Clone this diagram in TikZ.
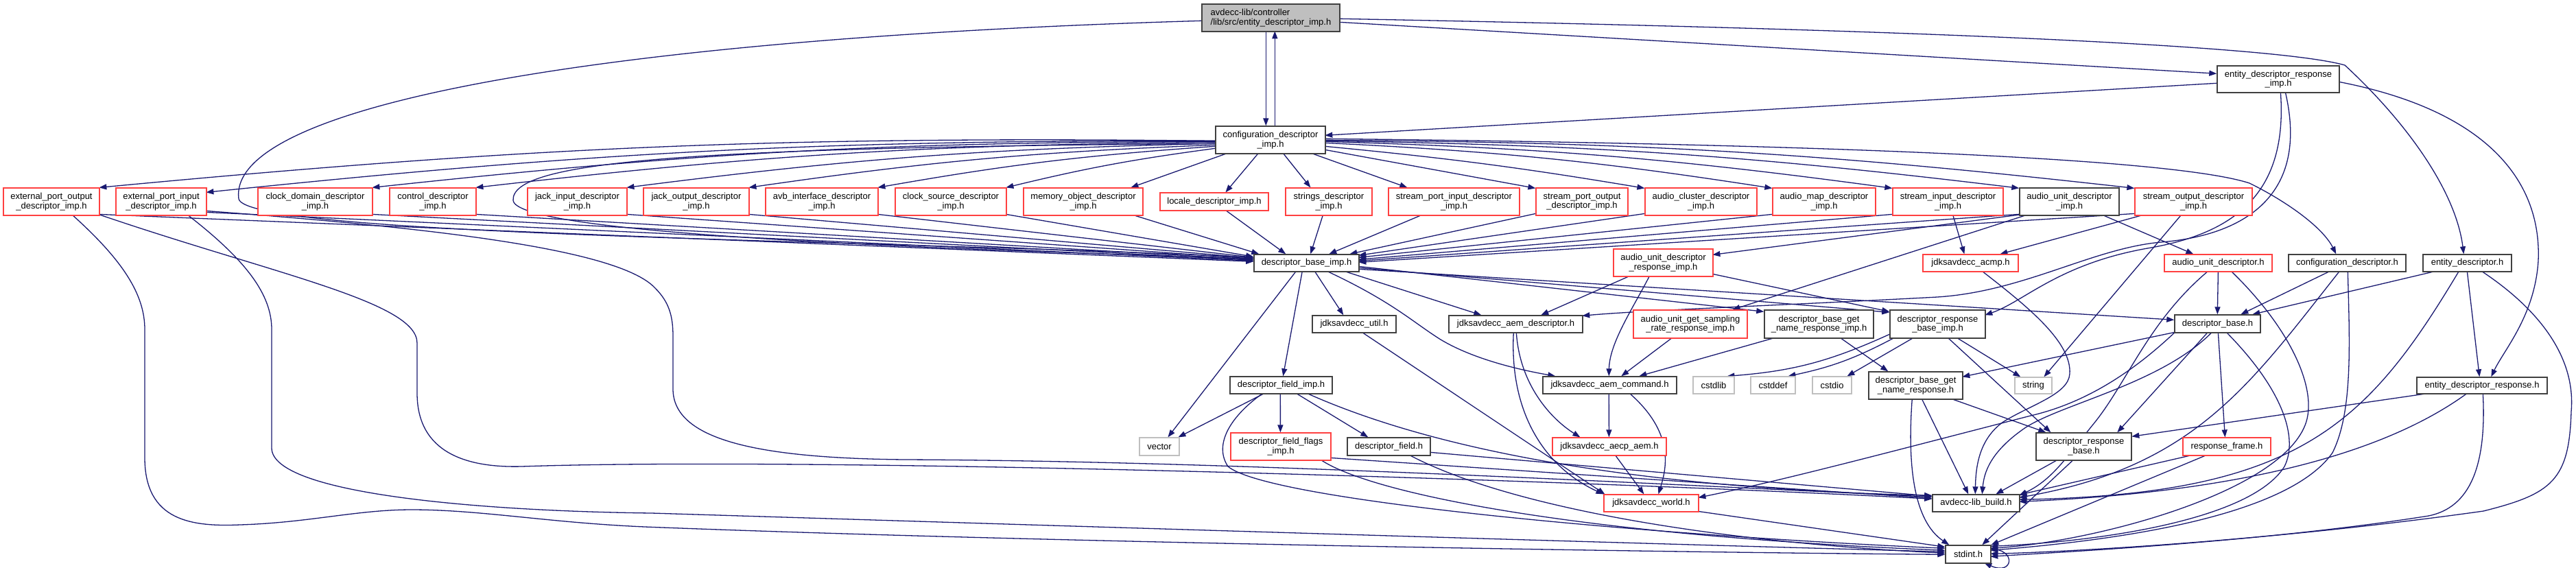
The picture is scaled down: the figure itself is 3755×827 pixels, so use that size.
\documentclass[tikz,border=0pt]{standalone}
\usepackage{fontspec}
\setmainfont{Liberation Sans}
\usetikzlibrary{arrows.meta}
\definecolor{edgec}{HTML}{191970}
\definecolor{redb}{HTML}{FF4040}
\definecolor{greyb}{HTML}{BFBFBF}
\definecolor{darkb}{HTML}{404040}
\pgfdeclarelayer{edgelayer}
\pgfsetlayers{edgelayer,main}
\tikzset{
  box/.style={draw=darkb, line width=0.7pt, inner sep=0pt, fill=white, align=center,
    font=\fontsize{6.5}{6.8}\selectfont},
  rbox/.style={box, draw=redb, line width=0.6pt},
  gbox/.style={box, draw=greyb, line width=0.6pt},
  tbox/.style={box, fill=greyb, align=left},
  lnk/.style={draw=edgec, line width=0.65pt, -{Triangle[length=5.5pt,width=4pt]}},
}
\newcommand{\nd}[7]{\node[#6, minimum width={(#4-#2)*0.5pt}, minimum height={(#5-#3)*0.5pt}] (#1) at ({(#2+#4)/2},{(#3+#5)/2}) {#7};}
\begin{document}
\begin{tikzpicture}[x=0.5pt,y=-0.5pt]
\useasboundingbox (0,0) rectangle (3755,827);
% ---------- nodes
\nd{T}{1752}{6}{1953}{46}{tbox}{avdecc-lib/controller\\/lib/src/entity\_descriptor\_imp.h}
\nd{C}{1772}{184}{1932}{224}{box}{configuration\_descriptor\\\_imp.h}
\nd{EDRI}{3232}{96}{3410}{135}{box}{entity\_descriptor\_response\\\_imp.h}
\nd{EPO}{5}{274}{145}{314}{rbox}{external\_port\_output\\\_descriptor\_imp.h}
\nd{EPI}{169}{274}{301}{314}{rbox}{external\_port\_input\\\_descriptor\_imp.h}
\nd{CDO}{376}{274}{543}{314}{rbox}{clock\_domain\_descriptor\\\_imp.h}
\nd{CTL}{568}{274}{694}{314}{rbox}{control\_descriptor\\\_imp.h}
\nd{JI}{769}{274}{914}{314}{rbox}{jack\_input\_descriptor\\\_imp.h}
\nd{JO}{938}{274}{1092}{314}{rbox}{jack\_output\_descriptor\\\_imp.h}
\nd{AVB}{1116}{274}{1280}{314}{rbox}{avb\_interface\_descriptor\\\_imp.h}
\nd{CS}{1305}{274}{1467}{314}{rbox}{clock\_source\_descriptor\\\_imp.h}
\nd{MO}{1492}{274}{1666}{314}{rbox}{memory\_object\_descriptor\\\_imp.h}
\nd{LOC}{1691}{281}{1849}{307}{rbox}{locale\_descriptor\_imp.h}
\nd{STR}{1874}{274}{2000}{314}{rbox}{strings\_descriptor\\\_imp.h}
\nd{SPI}{2024}{274}{2215}{314}{rbox}{stream\_port\_input\_descriptor\\\_imp.h}
\nd{SPO}{2239}{274}{2373}{314}{rbox}{stream\_port\_output\\\_descriptor\_imp.h}
\nd{AC}{2398}{274}{2561}{314}{rbox}{audio\_cluster\_descriptor\\\_imp.h}
\nd{AM}{2584}{274}{2734}{314}{rbox}{audio\_map\_descriptor\\\_imp.h}
\nd{SI}{2759}{274}{2920}{314}{rbox}{stream\_input\_descriptor\\\_imp.h}
\nd{AU}{2944}{274}{3089}{314}{box}{audio\_unit\_descriptor\\\_imp.h}
\nd{SO}{3112}{274}{3283}{314}{rbox}{stream\_output\_descriptor\\\_imp.h}
\nd{DBI}{1828}{371}{1981}{396}{box}{descriptor\_base\_imp.h}
\nd{AUDR}{2352}{363}{2497}{403}{rbox}{audio\_unit\_descriptor\\\_response\_imp.h}
\nd{ACMP}{2803}{371}{2942}{396}{rbox}{jdksavdecc\_acmp.h}
\nd{AUD}{3155}{371}{3312}{396}{rbox}{audio\_unit\_descriptor.h}
\nd{CD}{3336}{371}{3507}{396}{box}{configuration\_descriptor.h}
\nd{ED}{3532}{371}{3661}{396}{box}{entity\_descriptor.h}
\nd{UTIL}{1913}{460}{2035}{485}{box}{jdksavdecc\_util.h}
\nd{AEMD}{2112}{460}{2307}{485}{box}{jdksavdecc\_aem\_descriptor.h}
\nd{AUGS}{2381}{452}{2547}{493}{rbox}{audio\_unit\_get\_sampling\\\_rate\_response\_imp.h}
\nd{DBGNI}{2572}{452}{2731}{493}{box}{descriptor\_base\_get\\\_name\_response\_imp.h}
\nd{DRBI}{2755}{452}{2894}{493}{box}{descriptor\_response\\\_base\_imp.h}
\nd{DB}{3170}{459}{3295}{485}{box}{descriptor\_base.h}
\nd{DFI}{1793}{549}{1942}{574}{box}{descriptor\_field\_imp.h}
\nd{AEMC}{2249}{549}{2444}{574}{box}{jdksavdecc\_aem\_command.h}
\nd{CSTDLIB}{2468}{549}{2528}{574}{gbox}{cstdlib}
\nd{CSTDDEF}{2552}{549}{2617}{574}{gbox}{cstddef}
\nd{CSTDIO}{2642}{549}{2699}{574}{gbox}{cstdio}
\nd{DBGN}{2724}{542}{2861}{582}{box}{descriptor\_base\_get\\\_name\_response.h}
\nd{STRING}{2937}{550}{2991}{574}{gbox}{string}
\nd{EDR}{3523}{550}{3713}{574}{box}{entity\_descriptor\_response.h}
\nd{VEC}{1661}{638}{1719}{664}{gbox}{vector}
\nd{DFF}{1794}{631}{1940}{671}{rbox}{descriptor\_field\_flags\\\_imp.h}
\nd{DF}{1964}{638}{2085}{664}{box}{descriptor\_field.h}
\nd{AECP}{2263}{638}{2429}{664}{rbox}{jdksavdecc\_aecp\_aem.h}
\nd{DRB}{2968}{631}{3107}{671}{box}{descriptor\_response\\\_base.h}
\nd{RF}{3182}{638}{3310}{664}{rbox}{response\_frame.h}
\nd{WORLD}{2338}{721}{2476}{746}{rbox}{jdksavdecc\_world.h}
\nd{BUILD}{2817}{721}{2944}{746}{box}{avdecc-lib\_build.h}
\nd{STDINT}{2836}{795}{2902}{821}{box}{stdint.h}
\begin{pgfonlayer}{edgelayer}
% ---------- edges from the top node
\draw[lnk] ([shift={(94,40)}]T.north west) -- ([shift={(74,0)}]C.north west);
\draw[lnk] ([shift={(87,0)}]C.north west) -- ([shift={(107,40)}]T.north west);
\draw[lnk] ([shift={(201,27)}]T.north west) -- ([shift={(0,12)}]EDRI.north west);
\draw[lnk] ([shift={(201,22)}]T.north west) .. controls (2900,45) and (3330,70) .. (3418,95) .. controls (3510,180) and (3580,280) .. ([shift={(60,0)}]ED.north west);
\draw[lnk] ([shift={(0,25)}]T.north west) .. controls (900,55) and (330,150) .. (348,290) .. controls (360,345) and (1300,350) .. ([shift={(0,5)}]DBI.north west);
% ---------- configuration_descriptor_imp.h
\draw[lnk] ([shift={(0,26)}]C.north west) .. controls (1000,215) and (745,235) .. (748,292) .. controls (752,345) and (1450,365) .. ([shift={(0,7)}]DBI.north west);
\draw[lnk] ([shift={(0,22)}]C.north west) to[bend right=3] ([shift={(140,0)}]EPO.north west);
\draw[lnk] ([shift={(0,22)}]C.north west) to[bend right=3] ([shift={(132,7)}]EPI.north west);
\draw[lnk] ([shift={(0,23)}]C.north west) to[bend right=3] ([shift={(167,0)}]CDO.north west);
\draw[lnk] ([shift={(0,24)}]C.north west) to[bend right=3] ([shift={(126,0)}]CTL.north west);
\draw[lnk] ([shift={(0,26)}]C.north west) to[bend right=3] ([shift={(145,0)}]JI.north west);
\draw[lnk] ([shift={(0,28)}]C.north west) to[bend right=3] ([shift={(154,0)}]JO.north west);
\draw[lnk] ([shift={(0,30)}]C.north west) to[bend right=3] ([shift={(164,0)}]AVB.north west);
\draw[lnk] ([shift={(0,33)}]C.north west) to[bend right=3] ([shift={(162,0)}]CS.north west);
\draw[lnk] ([shift={(18,40)}]C.north west) -- ([shift={(157,0)}]MO.north west);
\draw[lnk] ([shift={(63,40)}]C.north west) -- ([shift={(96,0)}]LOC.north west);
\draw[lnk] ([shift={(99,40)}]C.north west) -- ([shift={(37,0)}]STR.north west);
\draw[lnk] ([shift={(140,40)}]C.north west) -- ([shift={(28,0)}]SPI.north west);
\draw[lnk] ([shift={(160,35)}]C.north west) -- ([shift={(0,1)}]SPO.north west);
\draw[lnk] ([shift={(160,30)}]C.north west) to[bend left=2] ([shift={(0,1)}]AC.north west);
\draw[lnk] ([shift={(160,25)}]C.north west) to[bend left=3] ([shift={(0,1)}]AM.north west);
\draw[lnk] ([shift={(160,23)}]C.north west) to[bend left=3] ([shift={(0,1)}]SI.north west);
\draw[lnk] ([shift={(160,22)}]C.north west) to[bend left=3] ([shift={(0,1)}]AU.north west);
\draw[lnk] ([shift={(160,21)}]C.north west) to[bend left=3] ([shift={(0,1)}]SO.north west);
\draw[lnk] ([shift={(160,19)}]C.north west) .. controls (2500,208) and (3150,225) .. (3279,267) .. controls (3330,292) and (3385,330) .. ([shift={(70,0)}]CD.north west);
% ---------- row 1 to descriptor_base_imp.h
\draw[lnk] ([shift={(140,39)}]EPO.north west) -- ([shift={(0,11)}]DBI.north west);
\draw[lnk] ([shift={(132,36)}]EPI.north west) -- ([shift={(0,10)}]DBI.north west);
\draw[lnk] ([shift={(167,39)}]CDO.north west) -- ([shift={(0,9)}]DBI.north west);
\draw[lnk] ([shift={(126,39)}]CTL.north west) -- ([shift={(0,8)}]DBI.north west);
\draw[lnk] ([shift={(145,39)}]JI.north west) -- ([shift={(0,7)}]DBI.north west);
\draw[lnk] ([shift={(154,39)}]JO.north west) -- ([shift={(0,6)}]DBI.north west);
\draw[lnk] ([shift={(164,39)}]AVB.north west) -- ([shift={(0,5)}]DBI.north west);
\draw[lnk] ([shift={(162,39)}]CS.north west) -- ([shift={(0,4)}]DBI.north west);
\draw[lnk] ([shift={(157,39)}]MO.north west) -- ([shift={(8,0)}]DBI.north west);
\draw[lnk] ([shift={(96,26)}]LOC.north west) -- ([shift={(47,0)}]DBI.north west);
\draw[lnk] ([shift={(55,40)}]STR.north west) -- ([shift={(83,0)}]DBI.north west);
\draw[lnk] ([shift={(49,40)}]SPI.north west) -- ([shift={(110,0)}]DBI.north west);
\draw[lnk] ([shift={(0,38)}]SPO.north west) -- ([shift={(140,0)}]DBI.north west);
\draw[lnk] ([shift={(0,38)}]AC.north west) -- ([shift={(153,2)}]DBI.north west);
\draw[lnk] ([shift={(0,39)}]AM.north west) -- ([shift={(153,5)}]DBI.north west);
\draw[lnk] ([shift={(0,39)}]SI.north west) -- ([shift={(153,8)}]DBI.north west);
\draw[lnk] ([shift={(0,39)}]AU.north west) -- ([shift={(153,10)}]DBI.north west);
\draw[lnk] ([shift={(0,38)}]SO.north west) -- ([shift={(153,12)}]DBI.north west);
% ---------- long edges from the external port nodes
\draw[lnk] ([shift={(139,39)}]EPO.north west) .. controls (400,400) and (608,440) .. (608,500) -- (608,573) .. controls (608,660) and (680,682) .. (760,680) .. controls (1200,665) and (2300,700) .. ([shift={(0,7)}]BUILD.north west);
\draw[lnk] ([shift={(100,39)}]EPO.north west) .. controls (180,380) and (211,430) .. (211,480) -- (211,667) .. controls (211,760) and (280,768) .. (350,765) .. controls (450,762) and (520,743) .. (600,743) .. controls (700,743) and (800,762) .. (940,768) .. controls (1500,790) and (2400,805) .. ([shift={(0,14)}]STDINT.north west);
\draw[lnk] ([shift={(104,39)}]EPI.north west) .. controls (360,380) and (396,430) .. (396,480) -- (396,653) .. controls (396,720) and (700,745) .. (950,748) .. controls (1500,765) and (2300,790) .. ([shift={(0,10)}]STDINT.north west);
\draw[lnk] ([shift={(132,34)}]EPI.north west) .. controls (600,330) and (900,360) .. (955,420) .. controls (975,440) and (981,460) .. (981,490) -- (981,567) .. controls (981,640) and (1100,668) .. (1320,670) .. controls (1800,672) and (2400,705) .. ([shift={(0,4)}]BUILD.north west);
% ---------- descriptor_base_imp.h
\draw[lnk] ([shift={(62,25)}]DBI.north west) -- ([shift={(42,0)}]VEC.north west);
\draw[lnk] ([shift={(71,25)}]DBI.north west) -- ([shift={(78,0)}]DFI.north west);
\draw[lnk] ([shift={(89,25)}]DBI.north west) -- ([shift={(46,0)}]UTIL.north west);
\draw[lnk] ([shift={(107,25)}]DBI.north west) .. controls (2030,440) and (2060,470) .. (2100,495) .. controls (2150,525) and (2220,540) .. ([shift={(19,0)}]AEMC.north west);
\draw[lnk] ([shift={(132,25)}]DBI.north west) -- ([shift={(48,0)}]AEMD.north west);
\draw[lnk] ([shift={(153,18)}]DBI.north west) -- ([shift={(0,3)}]DBGNI.north west);
\draw[lnk] ([shift={(153,20)}]DBI.north west) -- ([shift={(0,4)}]DRBI.north west);
\draw[lnk] ([shift={(153,22)}]DBI.north west) -- ([shift={(0,8)}]DB.north west);
% ---------- audio unit
\draw[lnk] ([shift={(24,40)}]AUDR.north west) -- ([shift={(135,0)}]AEMD.north west);
\draw[lnk] ([shift={(53,40)}]AUDR.north west) .. controls (2380,450) and (2346,500) .. ([shift={(97,0)}]AEMC.north west);
\draw[lnk] ([shift={(145,37)}]AUDR.north west) -- ([shift={(0,3)}]DRBI.north west);
\draw[lnk] ([shift={(6,39)}]AU.north west) -- ([shift={(145,9)}]AUDR.north west);
\draw[lnk] ([shift={(11,40)}]AU.north west) -- ([shift={(145,0)}]AUGS.north west);
\draw[lnk] ([shift={(119,39)}]AU.north west) -- ([shift={(43,0)}]AUD.north west);
\draw[lnk] ([shift={(88,39)}]SI.north west) -- ([shift={(61,0)}]ACMP.north west);
\draw[lnk] ([shift={(16,39)}]SO.north west) -- ([shift={(113,0)}]ACMP.north west);
\draw[lnk] ([shift={(68,40)}]SO.north west) -- ([shift={(43,0)}]STRING.north west);
% ---------- entity_descriptor_response_imp.h
\draw[lnk] ([shift={(0,26)}]EDRI.north west) -- ([shift={(160,14)}]C.north west);
\draw[lnk] ([shift={(100,39)}]EDRI.north west) .. controls (3370,300) and (3250,345) .. (3150,353) .. controls (3050,362) and (2950,425) .. (2824,433) .. controls (2600,445) and (2400,452) .. ([shift={(195,1)}]AEMD.north west);
\draw[lnk] ([shift={(93,39)}]EDRI.north west) .. controls (3335,280) and (3260,340) .. (3130,362) .. controls (3000,385) and (2950,440) .. ([shift={(139,8)}]DRBI.north west);
\draw[lnk] ([shift={(178,24)}]EDRI.north west) .. controls (3620,160) and (3705,260) .. (3700,380) .. controls (3695,460) and (3650,510) .. ([shift={(109,0)}]EDR.north west);
% ---------- entity_descriptor.h
\draw[lnk] ([shift={(19,25)}]ED.north west) -- ([shift={(114,0)}]DB.north west);
\draw[lnk] ([shift={(53,25)}]ED.north west) .. controls (3450,620) and (3350,720) .. ([shift={(127,8)}]BUILD.north west);
\draw[lnk] ([shift={(65,25)}]ED.north west) -- ([shift={(92,0)}]EDR.north west);
\draw[lnk] ([shift={(86,25)}]ED.north west) .. controls (3700,450) and (3755,520) .. (3748,600) .. controls (3745,700) and (3720,720) .. (3620,745) .. controls (3300,790) and (3000,805) .. ([shift={(66,13)}]STDINT.north west);
% ---------- configuration_descriptor.h
\draw[lnk] ([shift={(61,25)}]CD.north west) -- ([shift={(97,0)}]DB.north west);
\draw[lnk] ([shift={(75,25)}]CD.north west) .. controls (3280,560) and (3200,680) .. ([shift={(127,5)}]BUILD.north west);
\draw[lnk] ([shift={(87,25)}]CD.north west) .. controls (3425,500) and (3430,600) .. (3400,660) .. controls (3330,760) and (3050,790) .. ([shift={(66,8)}]STDINT.north west);
% ---------- audio_unit_descriptor.h
\draw[lnk] ([shift={(79,25)}]AUD.north west) -- ([shift={(63,0)}]DB.north west);
\draw[lnk] ([shift={(64,25)}]AUD.north west) .. controls (3130,470) and (3100,560) .. (3050,620) .. controls (3010,670) and (2990,700) .. ([shift={(127,2)}]BUILD.north west);
\draw[lnk] ([shift={(98,25)}]AUD.north west) .. controls (3340,480) and (3380,570) .. (3360,620) .. controls (3320,720) and (3050,790) .. ([shift={(66,5)}]STDINT.north west);
% ---------- descriptor_base.h
\draw[lnk] ([shift={(64,26)}]DB.north west) -- ([shift={(62,0)}]RF.north west);
\draw[lnk] ([shift={(1,26)}]DB.north west) -- ([shift={(137,8)}]DBGN.north west);
\draw[lnk] ([shift={(49,26)}]DB.north west) -- ([shift={(119,0)}]DRB.north west);
\draw[lnk] ([shift={(55,26)}]DB.north west) .. controls (3150,560) and (3000,590) .. (2950,625) .. controls (2900,660) and (2892,690) .. ([shift={(73,0)}]BUILD.north west);
\draw[lnk] ([shift={(76,26)}]DB.north west) .. controls (3330,570) and (3350,640) .. (3330,680) .. controls (3280,760) and (3050,790) .. ([shift={(66,2)}]STDINT.north west);
\draw[lnk] ([shift={(0,27)}]DB.north west) .. controls (3090,560) and (3020,592) .. (2960,606) .. controls (2750,660) and (2600,700) .. ([shift={(138,5)}]WORLD.north west);
\draw[lnk] ([shift={(87,25)}]ACMP.north west) .. controls (2960,450) and (3020,500) .. (3017,545) .. controls (3015,575) and (2960,590) .. (2920,615) .. controls (2885,640) and (2880,680) .. ([shift={(63,0)}]BUILD.north west);
% ---------- entity_descriptor_response.h
\draw[lnk] ([shift={(18,24)}]EDR.north west) -- ([shift={(140,6)}]DRB.north west);
\draw[lnk] ([shift={(74,24)}]EDR.north west) .. controls (3450,680) and (3200,720) .. ([shift={(127,11)}]BUILD.north west);
\draw[lnk] ([shift={(97,24)}]EDR.north west) .. controls (3625,680) and (3600,740) .. (3540,752) .. controls (3300,790) and (3000,805) .. ([shift={(66,17)}]STDINT.north west);
% ---------- name response / response base
\draw[lnk] ([shift={(16,41)}]DBGNI.north west) -- ([shift={(141,0)}]AEMC.north west);
\draw[lnk] ([shift={(111,41)}]DBGNI.north west) -- ([shift={(29,0)}]DBGN.north west);
\draw[lnk] ([shift={(57,41)}]AUGS.north west) -- ([shift={(115,0)}]AEMC.north west);
\draw[lnk] ([shift={(35,41)}]DRBI.north west) -- ([shift={(51,0)}]CSTDIO.north west);
\draw[lnk] ([shift={(7,41)}]DRBI.north west) to[bend left=8] ([shift={(55,0)}]CSTDDEF.north west);
\draw[lnk] ([shift={(0,36)}]DRBI.north west) to[bend left=10] ([shift={(50,0)}]CSTDLIB.north west);
\draw[lnk] ([shift={(98,41)}]DRBI.north west) -- ([shift={(9,0)}]STRING.north west);
\draw[lnk] ([shift={(85,41)}]DRBI.north west) -- ([shift={(22,0)}]DRB.north west);
\draw[lnk] ([shift={(64,40)}]DBGN.north west) .. controls (2780,680) and (2790,760) .. ([shift={(6,0)}]STDINT.north west);
\draw[lnk] ([shift={(78,40)}]DBGN.north west) -- ([shift={(53,0)}]BUILD.north west);
\draw[lnk] ([shift={(121,40)}]DBGN.north west) -- ([shift={(15,0)}]DRB.north west);
\draw[lnk] ([shift={(32,40)}]DRB.north west) -- ([shift={(93,0)}]BUILD.north west);
\draw[lnk] ([shift={(55,40)}]DRB.north west) -- ([shift={(54,0)}]STDINT.north west);
\draw[lnk] ([shift={(14,26)}]RF.north west) -- ([shift={(127,1)}]BUILD.north west);
\draw[lnk] ([shift={(35,26)}]RF.north west) -- ([shift={(67,0)}]STDINT.north west);
% ---------- descriptor field
\draw[lnk] ([shift={(49,26)}]DFI.north west) -- ([shift={(57,0)}]VEC.north west);
\draw[lnk] ([shift={(74,25)}]DFI.north west) -- ([shift={(73,0)}]DFF.north west);
\draw[lnk] ([shift={(97,25)}]DFI.north west) -- ([shift={(31,0)}]DF.north west);
\draw[lnk] ([shift={(115,26)}]DFI.north west) .. controls (2100,660) and (2400,712) .. ([shift={(0,2)}]BUILD.north west);
\draw[lnk] ([shift={(47,26)}]DFI.north west) .. controls (1790,610) and (1770,650) .. (1790,680) .. controls (1850,730) and (2400,780) .. ([shift={(0,5)}]STDINT.north west);
\draw[lnk] ([shift={(146,37)}]DFF.north west) -- ([shift={(0,6)}]BUILD.north west);
\draw[lnk] ([shift={(132,40)}]DFF.north west) .. controls (2000,720) and (2300,780) .. ([shift={(0,8)}]STDINT.north west);
\draw[lnk] ([shift={(121,22)}]DF.north west) -- ([shift={(0,3)}]BUILD.north west);
\draw[lnk] ([shift={(91,26)}]DF.north west) .. controls (2200,740) and (2500,790) .. ([shift={(0,12)}]STDINT.north west);
% ---------- jdksavdecc
\draw[lnk] ([shift={(73,25)}]UTIL.north west) -- ([shift={(2,0)}]WORLD.north west);
\draw[lnk] ([shift={(95,25)}]AEMD.north west) .. controls (2200,600) and (2250,680) .. ([shift={(0,0)}]WORLD.north west);
\draw[lnk] ([shift={(99,25)}]AEMD.north west) .. controls (2215,560) and (2260,610) .. ([shift={(41,0)}]AECP.north west);
\draw[lnk] ([shift={(97,25)}]AEMC.north west) -- ([shift={(83,0)}]AECP.north west);
\draw[lnk] ([shift={(127,25)}]AEMC.north west) .. controls (2440,630) and (2430,680) .. ([shift={(80,0)}]WORLD.north west);
\draw[lnk] ([shift={(92,26)}]AECP.north west) -- ([shift={(59,0)}]WORLD.north west);
\draw[lnk] ([shift={(138,25)}]WORLD.north west) -- ([shift={(0,3)}]STDINT.north west);
% ---------- stdint self loop
\draw[lnk] ([shift={(66,6)}]STDINT.north west) .. controls (2940,800) and (2935,840) .. ([shift={(57,26)}]STDINT.north west);
\end{pgfonlayer}
\end{tikzpicture}
\end{document}
